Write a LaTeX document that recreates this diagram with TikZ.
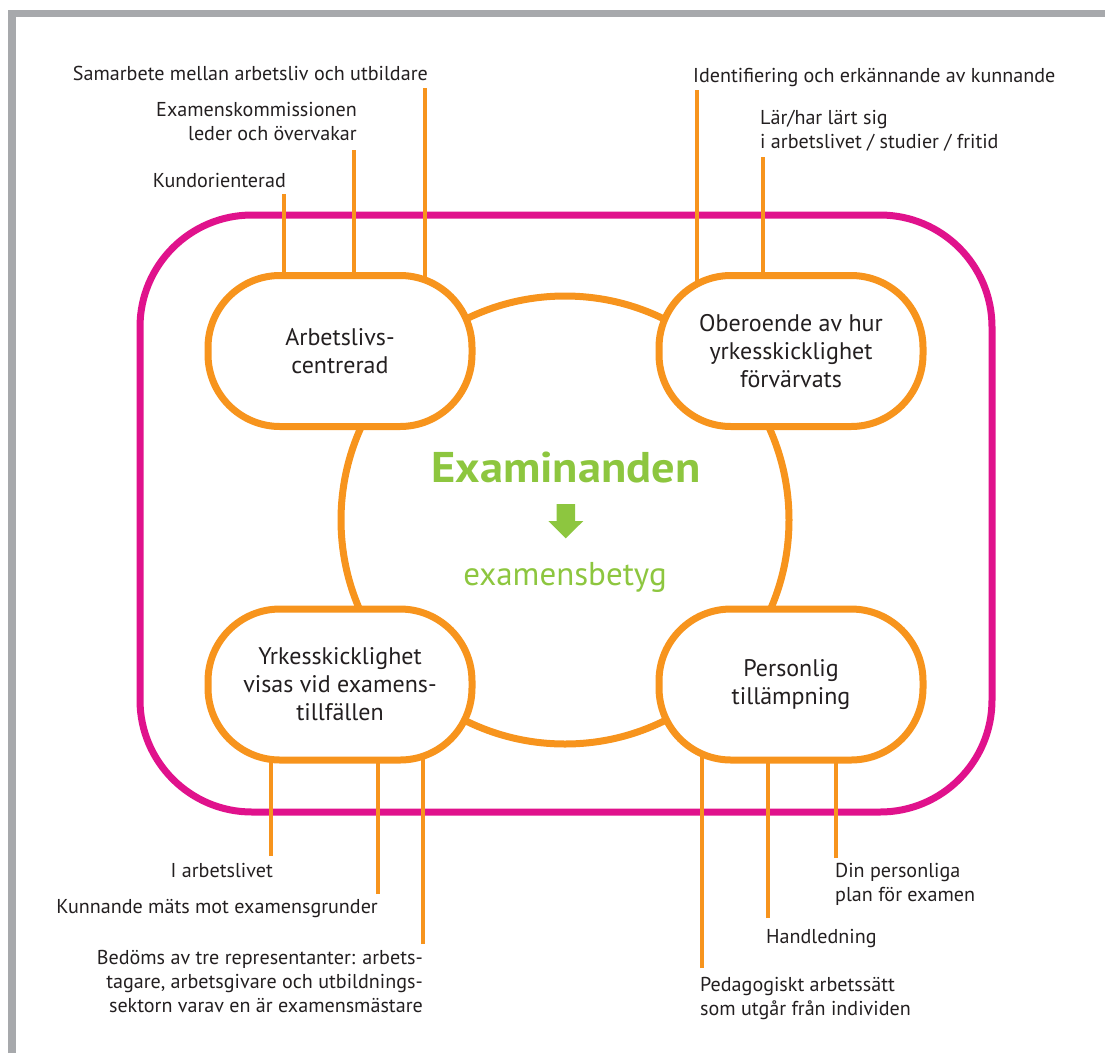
\documentclass[tikz,border=0pt]{standalone}
\usepackage{fontspec}
\setmainfont{PT Sans}
\newfontfamily\exafont[FakeStretch=1.08]{PT Sans}
\usetikzlibrary{backgrounds}
\definecolor{org}{HTML}{F7941D}
\definecolor{mag}{HTML}{E0128C}
\definecolor{grn}{HTML}{8DC63F}
\definecolor{txt}{HTML}{231F20}
\definecolor{frm}{HTML}{A7A9AC}
\newcommand{\labfont}{\fontsize{20.1}{24}\selectfont}
\newcommand{\bubfont}{\fontsize{24}{28}\selectfont}
\tikzset{
  bub/.style={draw=org, line width=7, fill=white, rounded corners=72,
    minimum width=264, minimum height=151, inner sep=0, align=center,
    font=\bubfont, text=txt},
  conn/.style={draw=org, line width=4},
  labr/.style={font=\labfont, text=txt, inner sep=0, align=right, anchor=base east},
  labl/.style={font=\labfont, text=txt, inner sep=0, align=left, anchor=base west},
}
\begin{document}
\begin{tikzpicture}[x=1pt,y=-1pt]
\useasboundingbox (0,0) rectangle (1105,1053);
% frame
\draw[frm, line width=7.5, line join=miter] (12,1053) -- (12,13.5) -- (1105,13.5);

% bubbles
\node[bub] (tl) at (340,351) {Arbetslivs-\\centrerad};
\node[bub] (tr) at (791,351) {Oberoende av hur\\yrkesskicklighet\\förvärvats};
\node[bub] (bl) at (340,684.5) {Yrkesskicklighet\\visas vid examens-\\tillfällen};
\node[bub] (br) at (791,684.5) {Personlig\\tillämpning};

% centre
\node[font=\fontsize{43}{50}\exafont\bfseries, text=grn, inner sep=0, anchor=base] (exa) at (566,482) {Examinanden};
\node[font=\fontsize{33}{40}\selectfont, text=grn, inner sep=0, anchor=base] (bet) at (565,585) {examensbetyg};
\fill[grn] (556.7,504) -- (575,504) -- (575,521) -- (583.3,521) -- (565.7,538.3) -- (548.3,521) -- (556.7,521) -- cycle;

% labels
\node[labr] (l1) at (428,80) {Samarbete mellan arbetsliv och utbildare};
\node[labr] (l2) at (357,140) {Examenskommissionen\\leder och övervakar};
\node[labr] (l3) at (286,187) {Kundorienterad};
\node[labl] (l4) at (693,82) {Identifiering och erkännande av kunnande};
\node[labl] (l5) at (760,148) {Lär/har lärt sig\\i arbetslivet / studier / fritid};
\node[labr] (l6) at (273,877) {I arbetslivet};
\node[labr] (l7) at (378,913) {Kunnande mäts mot examensgrunder};
\node[labr] (l8) at (423,1012) {Bedöms av tre representanter: arbets-\\tagare, arbetsgivare och utbildnings-\\sektorn varav en är examensmästare};
\node[labl] (l9) at (835,901) {Din personliga\\plan för examen};
\node[labl] (l10) at (766,943) {Handledning};
\node[labl] (l11) at (700,1015) {Pedagogiskt arbetssätt\\som utgår från individen};

% connector ends
\coordinate (c1) at (425,88);
\coordinate (c2) at (354,150);
\coordinate (c3) at (284,194);
\coordinate (c4) at (697,90);
\coordinate (c5) at (763,157);
\coordinate (c6) at (271,856);
\coordinate (c7) at (378,894);
\coordinate (c8) at (423,944);
\coordinate (c9) at (836,858);
\coordinate (c10) at (768,918);
\coordinate (c11) at (702,968);

\begin{pgfonlayer}{background}
\draw[mag, line width=7, rounded corners=112] (140,215) rectangle (992,812);
\node[circle, draw=org, line width=7, minimum size=448, inner sep=0] (ring) at (565,520) {};
\draw[conn] (c1) -- (c1 |- tl.center);
\draw[conn] (c2) -- (c2 |- tl.center);
\draw[conn] (c3) -- (c3 |- tl.center);
\draw[conn] (c4) -- (c4 |- tr.center);
\draw[conn] (c5) -- (c5 |- tr.center);
\draw[conn] (c6) -- (c6 |- bl.center);
\draw[conn] (c7) -- (c7 |- bl.center);
\draw[conn] (c8) -- (c8 |- bl.center);
\draw[conn] (c9) -- (c9 |- br.center);
\draw[conn] (c10) -- (c10 |- br.center);
\draw[conn] (c11) -- (c11 |- br.center);
\end{pgfonlayer}
\end{tikzpicture}
\end{document}
